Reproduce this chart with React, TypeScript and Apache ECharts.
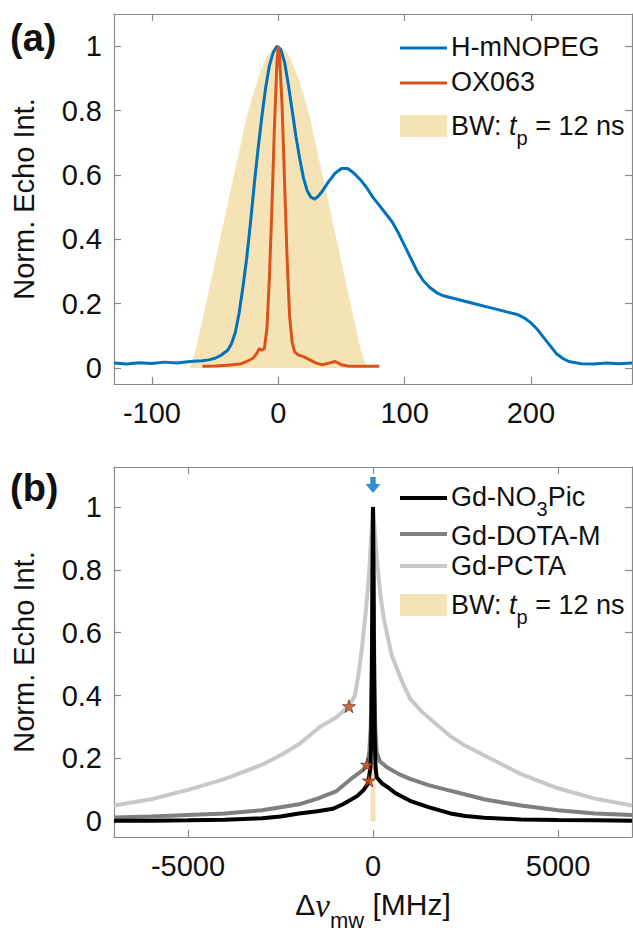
import React, { useEffect, useRef } from 'react';
import * as echarts from 'echarts';

// ---------- Panel (a) data ----------
const bwX = [-70, -65, -60, -55, -50, -45, -40, -35, -30, -25, -20, -15, -10, -5, 0, 5, 10, 15, 20, 25, 30, 35, 40, 45, 50, 55, 60, 65, 70];
const bwY = [0, 0.06, 0.15, 0.24, 0.33, 0.42, 0.51, 0.6, 0.69, 0.78, 0.85, 0.91, 0.96, 0.99, 1, 0.99, 0.96, 0.91, 0.85, 0.78, 0.69, 0.6, 0.51, 0.42, 0.33, 0.24, 0.15, 0.06, 0];

const nopegX = [-130, -120, -110, -100, -90, -80, -70, -60, -55, -50, -45, -40, -37, -34, -31, -28, -25, -22, -19, -16, -13, -10, -7, -4, -1, 2, 5, 8, 11, 14, 17, 20, 23, 26, 29, 32, 35, 40, 45, 50, 55, 60, 65, 70, 75, 80, 85, 90, 95, 100, 105, 110, 115, 120, 125, 130, 140, 150, 160, 170, 180, 190, 195, 200, 205, 210, 215, 220, 225, 230, 240, 250, 260, 270, 280];
const nopegY = [0.015, 0.012, 0.016, 0.014, 0.018, 0.015, 0.02, 0.022, 0.025, 0.03, 0.04, 0.055, 0.075, 0.11, 0.17, 0.25, 0.34, 0.45, 0.57, 0.68, 0.78, 0.87, 0.94, 0.98, 1.0, 0.99, 0.95, 0.88, 0.8, 0.72, 0.65, 0.59, 0.55, 0.53, 0.525, 0.535, 0.55, 0.58, 0.605, 0.62, 0.62, 0.605, 0.585, 0.56, 0.53, 0.505, 0.48, 0.455, 0.42, 0.38, 0.34, 0.3, 0.27, 0.25, 0.235, 0.225, 0.215, 0.205, 0.195, 0.185, 0.175, 0.165, 0.155, 0.14, 0.12, 0.095, 0.07, 0.045, 0.03, 0.02, 0.013, 0.012, 0.015, 0.013, 0.015];

const oxX = [-60, -50, -40, -30, -25, -20, -17, -15, -13, -11, -9, -7, -5, -3, -1, 0, 1, 3, 5, 7, 9, 11, 13, 16, 20, 25, 30, 35, 40, 45, 50, 55, 60, 70, 80];
const oxY = [0.005, 0.006, 0.008, 0.012, 0.02, 0.03, 0.045, 0.06, 0.055, 0.06, 0.12, 0.28, 0.5, 0.75, 0.95, 1.0, 0.97, 0.82, 0.58, 0.34, 0.16, 0.08, 0.05, 0.04, 0.035, 0.025, 0.015, 0.01, 0.015, 0.02, 0.01, 0.006, 0.005, 0.005, 0.005];

const aXTicks = [-100, 0, 100, 200];
const yTicks = [0, 0.2, 0.4, 0.6, 0.8, 1];

// ---------- Panel (b) data ----------
const pctaX = [-7000, -6000, -5000, -4000, -3000, -2500, -2000, -1436, -1000, -650, -490, -400, -300, -200, -100, -50, 0, 50, 100, 200, 300, 500, 800, 1000, 1350, 1800, 2100, 2500, 3000, 3500, 4000, 5000, 6000, 7000];
const pctaY = [0.05, 0.07, 0.1, 0.135, 0.18, 0.21, 0.245, 0.3, 0.33, 0.366, 0.4, 0.46, 0.55, 0.66, 0.8, 0.9, 1.0, 0.92, 0.84, 0.72, 0.64, 0.53, 0.44, 0.39, 0.345, 0.3, 0.27, 0.24, 0.21, 0.18, 0.15, 0.105, 0.072, 0.05];

const dotaX = [-7000, -6000, -5000, -4000, -3000, -2000, -1500, -1000, -540, -300, -160, -100, -60, -30, 0, 30, 60, 100, 190, 400, 700, 1000, 1500, 2000, 2500, 3000, 3500, 4000, 5000, 6000, 7000];
const dotaY = [0.012, 0.015, 0.02, 0.025, 0.035, 0.054, 0.072, 0.095, 0.14, 0.16, 0.18, 0.22, 0.3, 0.55, 1.0, 0.55, 0.3, 0.22, 0.19, 0.17, 0.15, 0.135, 0.115, 0.1, 0.085, 0.07, 0.06, 0.05, 0.035, 0.025, 0.02];

const picX = [-7000, -6000, -5000, -4000, -3000, -2500, -2000, -1500, -1080, -800, -430, -250, -135, -70, -50, -30, -15, 0, 15, 30, 50, 70, 100, 250, 380, 600, 1000, 1500, 2090, 2500, 3000, 4000, 5000, 6000, 7000];
const picY = [0.002, 0.002, 0.003, 0.005, 0.01, 0.015, 0.025, 0.032, 0.04, 0.055, 0.08, 0.1, 0.12, 0.17, 0.25, 0.45, 0.75, 1.0, 0.75, 0.45, 0.25, 0.17, 0.14, 0.12, 0.11, 0.09, 0.065, 0.045, 0.025, 0.017, 0.011, 0.006, 0.004, 0.003, 0.002];

const starX = [-650, -160, -110];
const starY = [0.366, 0.18, 0.13];
const arrowX = [0];
const arrowY = [1.07];
const bXTicks = [-5000, 0, 5000];

const zip = (xs: number[], ys: number[]) => xs.map((x, i) => [x, ys[i]]);

const FONT = 'Liberation Sans, Arial, sans-serif';
const AXIS_COLOR = '#8a8a8a';
const TEXT_COLOR = '#111111';
const BLUE = '#0072BD';
const ORANGE = '#D95319';
const BEIGE = '#F6E3B5';

const STAR = 'path://M50,0 L61,35 L98,35 L68,57 L79,91 L50,70 L21,91 L32,57 L2,35 L39,35 Z';
const ARROW = 'path://M33,0 H67 V45 H97 L50,100 L3,45 H33 Z';

const plain = (v: number) => String(v);

function xAxisDef(grid: number, min: number, max: number, ticks: number[], top: boolean, name?: any) {
  return {
    type: 'value',
    gridIndex: grid,
    position: top ? 'top' : 'bottom',
    min,
    max,
    axisLine: { show: true, onZero: false, lineStyle: { color: AXIS_COLOR, width: 1.2 } },
    axisTick: { show: true, inside: true, length: 7, customValues: ticks, lineStyle: { color: AXIS_COLOR, width: 1.2 } },
    axisLabel: {
      show: !top,
      customValues: ticks,
      formatter: plain,
      fontSize: 29,
      fontFamily: FONT,
      color: TEXT_COLOR,
      margin: 14,
    },
    splitLine: { show: false },
    ...(name || {}),
  };
}

function yAxisDef(grid: number, min: number, max: number, right: boolean) {
  return {
    type: 'value',
    gridIndex: grid,
    position: right ? 'right' : 'left',
    min,
    max,
    axisLine: { show: true, onZero: false, lineStyle: { color: AXIS_COLOR, width: 1.2 } },
    axisTick: { show: true, inside: true, length: 7, customValues: yTicks, lineStyle: { color: AXIS_COLOR, width: 1.2 } },
    axisLabel: {
      show: !right,
      customValues: yTicks,
      formatter: plain,
      fontSize: 29,
      fontFamily: FONT,
      color: TEXT_COLOR,
      margin: 12,
    },
    splitLine: { show: false },
    ...(right
      ? {}
      : {
          name: 'Norm. Echo Int.',
          nameLocation: 'middle',
          nameGap: 76,
          nameTextStyle: { fontSize: 29, fontFamily: FONT, color: TEXT_COLOR },
        }),
  };
}

const legendRich = {
  n: { fontSize: 27, fontFamily: FONT, fill: TEXT_COLOR, color: TEXT_COLOR, lineHeight: 28, verticalAlign: 'top' },
  i: { fontSize: 27, fontFamily: FONT, fontStyle: 'italic', fill: TEXT_COLOR, color: TEXT_COLOR, lineHeight: 28, verticalAlign: 'top' },
  s: { fontSize: 20, fontFamily: FONT, fill: TEXT_COLOR, color: TEXT_COLOR, lineHeight: 12, verticalAlign: 'top', padding: [16, 0, 0, 0] },
};

function legendLine(x: number, y: number, color: string, width: number) {
  return {
    type: 'line',
    shape: { x1: x, y1: y, x2: x + 47, y2: y },
    style: { stroke: color, lineWidth: width },
  };
}
function legendText(x: number, y: number, text: string, rich: boolean) {
  return {
    type: 'text',
    x,
    y,
    style: rich
      ? { text, rich: legendRich, verticalAlign: 'top', fill: TEXT_COLOR }
      : { text, fontSize: 27, fontFamily: FONT, fill: TEXT_COLOR, verticalAlign: 'middle' },
  };
}

const option: any = {
  animation: false,
  backgroundColor: '#ffffff',
  textStyle: { fontFamily: FONT },
  grid: [
    { left: 114, top: 14, width: 518, height: 370 },
    { left: 114, top: 467, width: 518, height: 373 },
  ],
  xAxis: [
    xAxisDef(0, -130, 280, aXTicks, false),
    xAxisDef(0, -130, 280, aXTicks, true),
    xAxisDef(1, -7000, 7000, bXTicks, false, {
      name: '{n|Δ}{i|ν}{s|mw}{n| [MHz]}',
      nameLocation: 'middle',
      nameGap: 52,
      nameTextStyle: {
        fontFamily: FONT,
        color: TEXT_COLOR,
        rich: {
          n: { fontSize: 30, fontFamily: FONT, color: TEXT_COLOR, lineHeight: 32, verticalAlign: 'top' },
          i: { fontSize: 33, fontFamily: 'Liberation Serif, serif', fontStyle: 'italic', color: TEXT_COLOR, lineHeight: 32, verticalAlign: 'top' },
          s: { fontSize: 22, fontFamily: FONT, color: TEXT_COLOR, lineHeight: 22, verticalAlign: 'top', padding: [20, 0, 0, 0] },
        },
      },
    }),
    xAxisDef(1, -7000, 7000, bXTicks, true),
  ],
  yAxis: [
    yAxisDef(0, -0.05, 1.1, false),
    yAxisDef(0, -0.05, 1.1, true),
    yAxisDef(1, -0.05, 1.127, false),
    yAxisDef(1, -0.05, 1.127, true),
  ],
  series: [
    {
      name: 'BW a',
      type: 'line',
      xAxisIndex: 0,
      yAxisIndex: 0,
      data: zip(bwX, bwY),
      symbol: 'none',
      lineStyle: { width: 0 },
      areaStyle: { color: BEIGE, opacity: 1 },
      z: 1,
    },
    {
      name: 'H-mNOPEG',
      type: 'line',
      xAxisIndex: 0,
      yAxisIndex: 0,
      data: zip(nopegX, nopegY),
      symbol: 'none',
      lineStyle: { color: BLUE, width: 3 },
      z: 2,
    },
    {
      name: 'OX063',
      type: 'line',
      xAxisIndex: 0,
      yAxisIndex: 0,
      data: zip(oxX, oxY),
      symbol: 'none',
      lineStyle: { color: ORANGE, width: 3 },
      z: 3,
    },
    {
      name: 'BW b',
      type: 'line',
      xAxisIndex: 2,
      yAxisIndex: 2,
      data: zip(bwX, bwY),
      symbol: 'none',
      lineStyle: { width: 0 },
      areaStyle: { color: BEIGE, opacity: 1 },
      z: 1,
    },
    {
      name: 'Gd-PCTA',
      type: 'line',
      xAxisIndex: 2,
      yAxisIndex: 2,
      data: zip(pctaX, pctaY),
      symbol: 'none',
      lineStyle: { color: '#C8C8C8', width: 4 },
      z: 2,
    },
    {
      name: 'Gd-DOTA-M',
      type: 'line',
      xAxisIndex: 2,
      yAxisIndex: 2,
      data: zip(dotaX, dotaY),
      symbol: 'none',
      lineStyle: { color: '#7F7F7F', width: 4 },
      z: 3,
    },
    {
      name: 'Gd-NO3Pic',
      type: 'line',
      xAxisIndex: 2,
      yAxisIndex: 2,
      data: zip(picX, picY),
      symbol: 'none',
      lineStyle: { color: '#000000', width: 4 },
      z: 4,
    },
    {
      name: 'stars',
      type: 'scatter',
      xAxisIndex: 2,
      yAxisIndex: 2,
      data: zip(starX, starY),
      symbol: STAR,
      symbolSize: 13,
      itemStyle: { color: ORANGE, borderColor: '#3a1a08', borderWidth: 0.8 },
      z: 6,
    },
    {
      name: 'arrow',
      type: 'scatter',
      xAxisIndex: 2,
      yAxisIndex: 2,
      data: zip(arrowX, arrowY),
      symbol: ARROW,
      symbolSize: [15, 16],
      itemStyle: { color: BLUE },
      z: 6,
    },
  ],
  graphic: [
    { type: 'text', x: 10, y: 38, style: { text: '(a)', fontSize: 38, fontWeight: 'bold', fontFamily: FONT, fill: TEXT_COLOR, verticalAlign: 'middle' } },
    { type: 'text', x: 10, y: 488, style: { text: '(b)', fontSize: 38, fontWeight: 'bold', fontFamily: FONT, fill: TEXT_COLOR, verticalAlign: 'middle' } },
    // legend (a)
    legendLine(400, 48, BLUE, 3),
    legendText(451, 47, 'H-mNOPEG', false),
    legendLine(400, 83, ORANGE, 3),
    legendText(451, 82, 'OX063', false),
    { type: 'rect', shape: { x: 400, y: 115, width: 47, height: 22 }, style: { fill: BEIGE } },
    legendText(451, 112, '{n|BW: }{i|t}{s|p}{n| = 12 ns}', true),
    // legend (b)
    legendLine(400, 498, '#000000', 4),
    legendText(451, 483, '{n|Gd-NO}{s|3}{n|Pic}', true),
    legendLine(400, 534, '#7F7F7F', 4),
    legendText(451, 536, 'Gd-DOTA-M', false),
    legendLine(400, 566, '#C8C8C8', 4),
    legendText(451, 566, 'Gd-PCTA', false),
    { type: 'rect', shape: { x: 400, y: 594, width: 47, height: 22 }, style: { fill: BEIGE } },
    legendText(451, 591, '{n|BW: }{i|t}{s|p}{n| = 12 ns}', true),
  ],
};

export default function App() {
  const ref = useRef<HTMLDivElement>(null);
  useEffect(() => {
    document.body.style.margin = '0';
    const chart = echarts.init(ref.current as HTMLDivElement, null, { renderer: 'svg' });
    chart.setOption(option);
    return () => chart.dispose();
  }, []);
  return <div ref={ref} style={{ width: 633, height: 932 }} />;
}
